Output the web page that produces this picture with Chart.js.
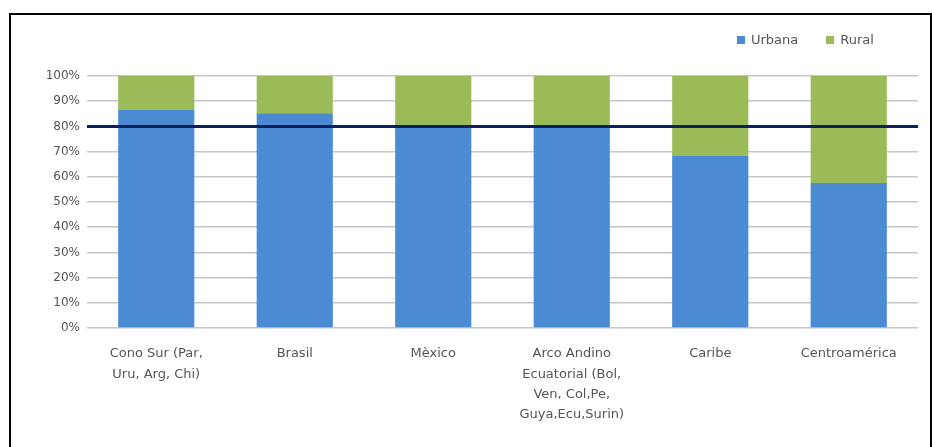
<!DOCTYPE html>
<html>
<head>
  <meta charset="utf-8">
  <script src="https://cdn.jsdelivr.net/npm/chart.js"></script>
  <style>
    body { margin: 0; background: #fff; }
    #frame { position: absolute; left: 9px; top: 13px; width: 919px; height: 440px; border: 2px solid #000; border-bottom: none; pointer-events: none; }
    #wrap { position: absolute; left: 0; top: 0; width: 932px; height: 447px; }
    #legend { position: absolute; top: 32px; left: 737px; display: flex; gap: 28px; font: 13px "DejaVu Sans"; color: #555; }
    #legend span.item { display: flex; align-items: center; }
    #legend i { display: inline-block; width: 8px; height: 8px; margin-right: 6px; }
  </style>
</head>
<body>
  <div id="wrap"><canvas id="chart"></canvas></div>
  <div id="legend"></div>
  <div id="frame"></div>

  <script>
    // categories and values (percent of population)
    const regions = [
      ['Cono Sur (Par,', 'Uru, Arg, Chi)'],
      'Brasil',
      'Mèxico',
      ['Arco Andino', 'Ecuatorial (Bol,', 'Ven, Col,Pe,', 'Guya,Ecu,Surin)'],
      'Caribe',
      'Centroamérica'
    ];
    const urbana = [86.7, 85.2, 80, 80, 68.3, 57.5];
    const rural = [13.3, 14.8, 20, 20, 31.7, 42.5];
    const metaLine = 80;
    const yTicks = [0, 10, 20, 30, 40, 50, 60, 70, 80, 90, 100];

    const textColor = '#555';
    const fontFamily = 'DejaVu Sans';

    // dark horizontal reference line across the plot
    const refLine = {
      id: 'refLine',
      afterDatasetsDraw(chart) {
        const { ctx, chartArea, scales } = chart;
        const y = scales.y.getPixelForValue(metaLine);
        ctx.save();
        ctx.strokeStyle = '#0c1f5e';
        ctx.lineWidth = 3;
        ctx.beginPath();
        ctx.moveTo(chartArea.left, y);
        ctx.lineTo(chartArea.right, y);
        ctx.stroke();
        ctx.restore();
      }
    };

    const chart = new Chart(document.getElementById('chart'), {
      type: 'bar',
      data: {
        labels: regions,
        datasets: [
          { label: 'Urbana', data: urbana, backgroundColor: '#4b8bd3', barPercentage: 0.55, categoryPercentage: 1 },
          { label: 'Rural', data: rural, backgroundColor: '#9bbb59', barPercentage: 0.55, categoryPercentage: 1 }
        ]
      },
      options: {
        responsive: true,
        maintainAspectRatio: false,
        animation: false,
        layout: { padding: { left: 10, right: 14, top: 76, bottom: 0 } },
        plugins: {
          legend: { display: false },
          tooltip: { enabled: false }
        },
        scales: {
          x: {
            stacked: true,
            grid: { display: false },
            border: { display: false },
            ticks: {
              color: textColor,
              font: { family: fontFamily, size: 13, lineHeight: 1.55 },
              maxRotation: 0,
              autoSkip: false,
              padding: 8
            },
            afterFit(scale) { scale.height = 119; }
          },
          y: {
            stacked: true,
            min: 0,
            max: 100,
            border: { display: false },
            grid: { color: '#c6c6c6', lineWidth: 1.5, drawTicks: false },
            afterBuildTicks(scale) { scale.ticks = yTicks.map(v => ({ value: v })); },
            ticks: {
              color: textColor,
              padding: 7,
              font: { family: fontFamily, size: 12 },
              callback: v => v + '%'
            },
            afterFit(scale) { scale.width = 77; }
          }
        }
      },
      plugins: [refLine]
    });

    // legend built from the datasets
    const legendEl = document.getElementById('legend');
    chart.data.datasets.forEach(ds => {
      const item = document.createElement('span');
      item.className = 'item';
      const sw = document.createElement('i');
      sw.style.background = ds.backgroundColor;
      item.appendChild(sw);
      item.appendChild(document.createTextNode(ds.label));
      legendEl.appendChild(item);
    });
  </script>
</body>
</html>
